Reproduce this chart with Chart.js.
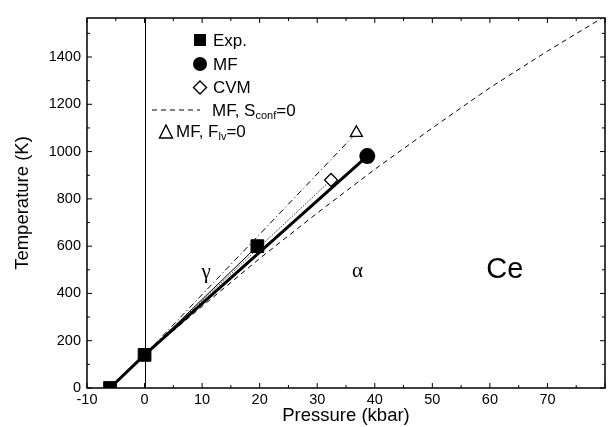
<!DOCTYPE html>
<html>
<head>
<meta charset="utf-8">
<script src="https://cdn.jsdelivr.net/npm/chart.js@4.4.0/dist/chart.umd.min.js"></script>
<style>
  html, body { margin: 0; padding: 0; background: #fff; overflow: hidden; }
  canvas { display: block; }
</style>
</head>
<body>
<canvas id="ce-phase" width="615" height="427"></canvas>
<script>
// Ce gamma-alpha phase line, T vs P
const expP = [-6, 0, 19.6];
const expT = [0, 140, 600];

const mfP = [-6, 0, 38.7];
const mfT = [0, 140, 981];

const cvmP = [0, 32.4];
const cvmT = [140, 880];

// MF, S_conf = 0 (slightly curved)
const sconfP = [0, 10, 20, 30, 40, 50, 60, 70, 79.5];
const sconfT = [140, 345, 548, 740, 925, 1100, 1270, 1425, 1565];

// MF, F_lv = 0
const flvP = [0, 36.8];
const flvT = [140, 1079];

const xTickLabels = [-10, 0, 10, 20, 30, 40, 50, 60, 70];
const yTickLabels = [0, 200, 400, 600, 800, 1000, 1200, 1400];

const FONT = "'Liberation Sans', Arial, Helvetica, sans-serif";

function pts(xs, ys) {
  return xs.map((x, i) => ({x: x, y: ys[i]}));
}

// frame, inward ticks, P=0 line, phase labels, legend
const decor = {
  id: 'decor',
  afterDatasetsDraw(chart) {
    const ctx = chart.ctx;
    const a = chart.chartArea;
    const xs = chart.scales.x, ys = chart.scales.y;
    ctx.save();
    ctx.strokeStyle = '#000';

    // P = 0 vertical line
    ctx.lineWidth = 1;
    const x0 = Math.round(xs.getPixelForValue(0)) + 0.5;
    ctx.beginPath();
    ctx.moveTo(x0, a.top);
    ctx.lineTo(x0, a.bottom);
    ctx.stroke();

    // frame
    ctx.lineWidth = 1.5;
    ctx.strokeRect(a.left, a.top, a.right - a.left, a.bottom - a.top);

    // ticks
    ctx.lineWidth = 1;
    ctx.beginPath();
    for (let v = -10; v <= 80; v += 5) {
      const px = xs.getPixelForValue(v);
      const len = v % 10 === 0 ? 5 : 3;
      ctx.moveTo(px, a.bottom); ctx.lineTo(px, a.bottom - len);
      ctx.moveTo(px, a.top); ctx.lineTo(px, a.top + len);
    }
    for (let v = 0; v <= 1500; v += 100) {
      const py = ys.getPixelForValue(v);
      const len = v % 200 === 0 ? 5 : 3;
      ctx.moveTo(a.left, py); ctx.lineTo(a.left + len, py);
      ctx.moveTo(a.right, py); ctx.lineTo(a.right - len, py);
    }
    ctx.stroke();

    // phase labels
    ctx.fillStyle = '#000';
    ctx.textAlign = 'center';
    ctx.textBaseline = 'middle';
    ctx.font = "21px 'Liberation Serif', 'DejaVu Serif', serif";
    ctx.fillText('\u03B3', xs.getPixelForValue(10.7), ys.getPixelForValue(490));
    ctx.fillText('\u03B1', xs.getPixelForValue(37), ys.getPixelForValue(494));
    ctx.font = '29px ' + FONT;
    ctx.fillText('Ce', xs.getPixelForValue(62.6), ys.getPixelForValue(500));

    // legend
    ctx.textAlign = 'left';
    ctx.font = '17px ' + FONT;
    ctx.lineWidth = 1.4;
    const lx = 200, tx = 213;
    // Exp.
    ctx.fillRect(lx - 6, 40 - 6, 12, 12);
    ctx.fillText('Exp.', tx, 41);
    // MF
    ctx.beginPath(); ctx.arc(lx, 64, 7, 0, Math.PI * 2); ctx.fill();
    ctx.fillText('MF', tx, 65);
    // CVM
    ctx.beginPath();
    ctx.moveTo(lx, 81); ctx.lineTo(lx + 6.5, 87.5); ctx.lineTo(lx, 94); ctx.lineTo(lx - 6.5, 87.5);
    ctx.closePath(); ctx.stroke();
    ctx.fillText('CVM', tx, 88);
    // MF, S_conf = 0
    ctx.lineWidth = 1;
    ctx.setLineDash([5, 4]);
    ctx.beginPath(); ctx.moveTo(152, 110); ctx.lineTo(200, 110); ctx.stroke();
    ctx.setLineDash([]);
    let w = 212;
    ctx.fillText('MF, S', w, 111); w += ctx.measureText('MF, S').width;
    ctx.font = '11px ' + FONT;
    ctx.fillText('conf', w, 116); w += ctx.measureText('conf').width;
    ctx.font = '17px ' + FONT;
    ctx.fillText('=0', w, 111);
    // MF, F_lv = 0
    ctx.lineWidth = 1.4;
    ctx.beginPath();
    ctx.moveTo(166, 125); ctx.lineTo(172.5, 138); ctx.lineTo(159.5, 138); ctx.closePath(); ctx.stroke();
    w = 176;
    ctx.fillText('MF, F', w, 132); w += ctx.measureText('MF, F').width;
    ctx.font = '11px ' + FONT;
    ctx.fillText('lv', w, 137); w += ctx.measureText('lv').width;
    ctx.font = '17px ' + FONT;
    ctx.fillText('=0', w, 132);

    ctx.restore();
  }
};

new Chart(document.getElementById('ce-phase'), {
  type: 'scatter',
  data: {
    datasets: [
      {
        label: 'MF, Sconf=0',
        data: pts(sconfP, sconfT),
        showLine: true,
        borderColor: '#000',
        borderWidth: 1,
        borderDash: [5, 4],
        pointRadius: 0
      },
      {
        label: 'MF, Flv=0',
        data: pts(flvP, flvT),
        showLine: true,
        borderColor: '#000',
        borderWidth: 1,
        borderDash: [6, 3, 1, 3],
        pointStyle: 'triangle',
        pointRadius: [0, 7],
        pointBorderWidth: 1.3,
        pointBorderColor: '#000',
        pointBackgroundColor: '#fff'
      },
      {
        label: 'CVM',
        data: pts(cvmP, cvmT),
        showLine: true,
        borderColor: '#000',
        borderWidth: 1,
        borderDash: [1, 1.5],
        pointStyle: 'rectRot',
        pointRadius: [0, 6.5],
        pointBorderWidth: 1.3,
        pointBorderColor: '#000',
        pointBackgroundColor: '#fff'
      },
      {
        label: 'Exp.',
        data: pts(expP, expT),
        showLine: true,
        borderColor: '#000',
        borderWidth: 1,
        pointStyle: 'rect',
        pointRadius: 9,
        pointBackgroundColor: '#000',
        pointBorderColor: '#000'
      },
      {
        label: 'MF',
        data: pts(mfP, mfT),
        showLine: true,
        borderColor: '#000',
        borderWidth: 3,
        pointStyle: 'circle',
        pointRadius: [0, 0, 6.5],
        pointBackgroundColor: '#000',
        pointBorderColor: '#000'
      }
    ]
  },
  options: {
    responsive: false,
    animation: false,
    layout: { padding: { top: 18, right: 0, left: 0, bottom: 0 } },
    plugins: { legend: { display: false }, tooltip: { enabled: false } },
    scales: {
      x: {
        type: 'linear',
        min: -10,
        max: 80,
        afterBuildTicks(scale) {
          scale.ticks = xTickLabels.map(v => ({value: v}));
        },
        afterFit(scale) {
          scale.height = 39;
          scale.paddingLeft = 0;
          scale.paddingRight = 0;
        },
        grid: { display: false, drawTicks: false },
        border: { display: false },
        ticks: {
          color: '#000',
          padding: 3,
          maxRotation: 0,
          autoSkip: false,
          font: { family: FONT, size: 14.5 },
          callback: v => String(v)
        },
        title: {
          display: true,
          text: 'Pressure (kbar)',
          color: '#000',
          padding: { top: 4, bottom: 0 },
          font: { family: FONT, size: 18.5 }
        }
      },
      y: {
        type: 'linear',
        min: 0,
        max: 1565,
        afterBuildTicks(scale) {
          scale.ticks = yTickLabels.map(v => ({value: v}));
        },
        afterFit(scale) {
          scale.width = 87;
          scale.paddingTop = 0;
          scale.paddingBottom = 0;
        },
        grid: { display: false, drawTicks: false },
        border: { display: false },
        ticks: {
          color: '#000',
          padding: 6,
          autoSkip: false,
          font: { family: FONT, size: 14.5 },
          callback: v => String(v)
        },
        title: {
          display: true,
          text: 'Temperature (K)',
          color: '#000',
          padding: { top: 12, bottom: 0 },
          font: { family: FONT, size: 18.5 }
        }
      }
    }
  },
  plugins: [decor]
});
</script>
</body>
</html>
